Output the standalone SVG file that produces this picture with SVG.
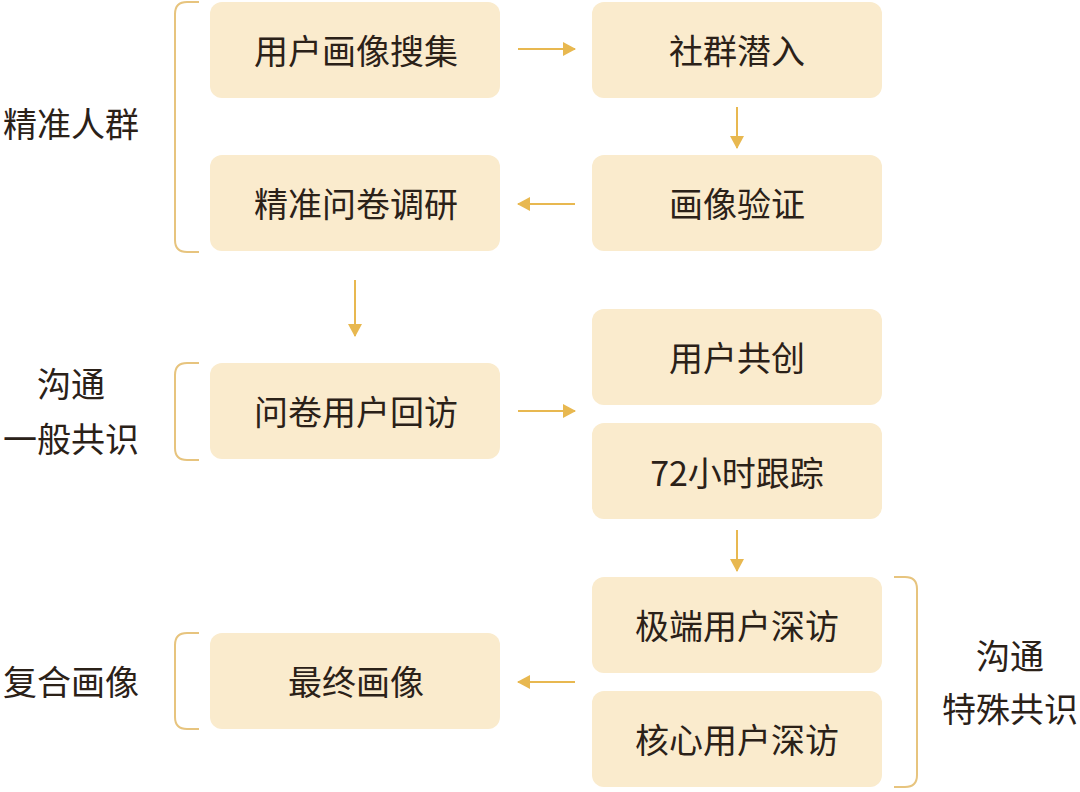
<svg xmlns="http://www.w3.org/2000/svg" width="1080" height="792" viewBox="0 0 1080 792">
<defs>
<style>
.box{fill:#FAEBCD;}
.t{font-family:"Noto Sans CJK SC","Noto Sans",sans-serif;font-size:34px;fill:#2B2118;text-anchor:middle;}
.lab{font-family:"Noto Sans CJK SC","Noto Sans",sans-serif;font-size:34px;fill:#2B2118;text-anchor:middle;}
.ln{stroke:#E8B850;stroke-width:2;fill:none;}
.br{stroke:#E7C47E;stroke-width:2;fill:none;}
</style>
<marker id="ah" markerWidth="14" markerHeight="14" refX="12" refY="7" orient="auto" markerUnits="userSpaceOnUse">
<path d="M0,0 L13,7 L0,14 Z" fill="#E8B850"/>
</marker>
</defs>
<rect width="1080" height="792" fill="#FFFFFF"/>
<g id="n1"><rect class="box" x="210" y="2" width="290" height="96" rx="12"/><text class="t" x="356" y="64">用户画像搜集</text></g>
<g id="n2"><rect class="box" x="592" y="2" width="290" height="96" rx="12"/><text class="t" x="737" y="64">社群潜入</text></g>
<g id="n3"><rect class="box" x="592" y="155" width="290" height="96" rx="12"/><text class="t" x="737" y="217">画像验证</text></g>
<g id="n4"><rect class="box" x="210" y="155" width="290" height="96" rx="12"/><text class="t" x="356" y="217">精准问卷调研</text></g>
<g id="n5"><rect class="box" x="210" y="363" width="290" height="96" rx="12"/><text class="t" x="356" y="425">问卷用户回访</text></g>
<g id="n6"><rect class="box" x="592" y="309" width="290" height="96" rx="12"/><text class="t" x="737" y="371">用户共创</text></g>
<g id="n7"><rect class="box" x="592" y="423" width="290" height="96" rx="12"/><text class="t" x="737" y="486">72小时跟踪</text></g>
<g id="n8"><rect class="box" x="592" y="577" width="290" height="96" rx="12"/><text class="t" x="737" y="639">极端用户深访</text></g>
<g id="n9"><rect class="box" x="592" y="691" width="290" height="96" rx="12"/><text class="t" x="737" y="753">核心用户深访</text></g>
<g id="n10"><rect class="box" x="210" y="633" width="290" height="96" rx="12"/><text class="t" x="356" y="695">最终画像</text></g>
<g id="g1"><path class="br" d="M199,2 H187 Q175,2 175,14 V240 Q175,252 187,252 H199"/><text class="lab" x="71" y="137">精准人群</text></g>
<g id="g2"><path class="br" d="M199,363 H187 Q175,363 175,375 V448 Q175,460 187,460 H199"/><text class="lab" x="71" y="397">沟通</text><text class="lab" x="71" y="452">一般共识</text></g>
<g id="g3"><path class="br" d="M199,633 H187 Q175,633 175,645 V717 Q175,729 187,729 H199"/><text class="lab" x="71" y="695">复合画像</text></g>
<g id="g4"><path class="br" d="M894,577 H905 Q917,577 917,589 V775 Q917,787 905,787 H894"/><text class="lab" x="1010" y="669">沟通</text><text class="lab" x="1010" y="722">特殊共识</text></g>
<g id="connectors">
<line class="ln" x1="518" y1="49" x2="575" y2="49" marker-end="url(#ah)"/>
<line class="ln" x1="737" y1="107" x2="737" y2="148" marker-end="url(#ah)"/>
<line class="ln" x1="575" y1="204" x2="518" y2="204" marker-end="url(#ah)"/>
<line class="ln" x1="355" y1="280" x2="355" y2="336" marker-end="url(#ah)"/>
<line class="ln" x1="518" y1="411" x2="575" y2="411" marker-end="url(#ah)"/>
<line class="ln" x1="737" y1="530" x2="737" y2="571" marker-end="url(#ah)"/>
<line class="ln" x1="575" y1="682" x2="518" y2="682" marker-end="url(#ah)"/>
</g>
</svg>
